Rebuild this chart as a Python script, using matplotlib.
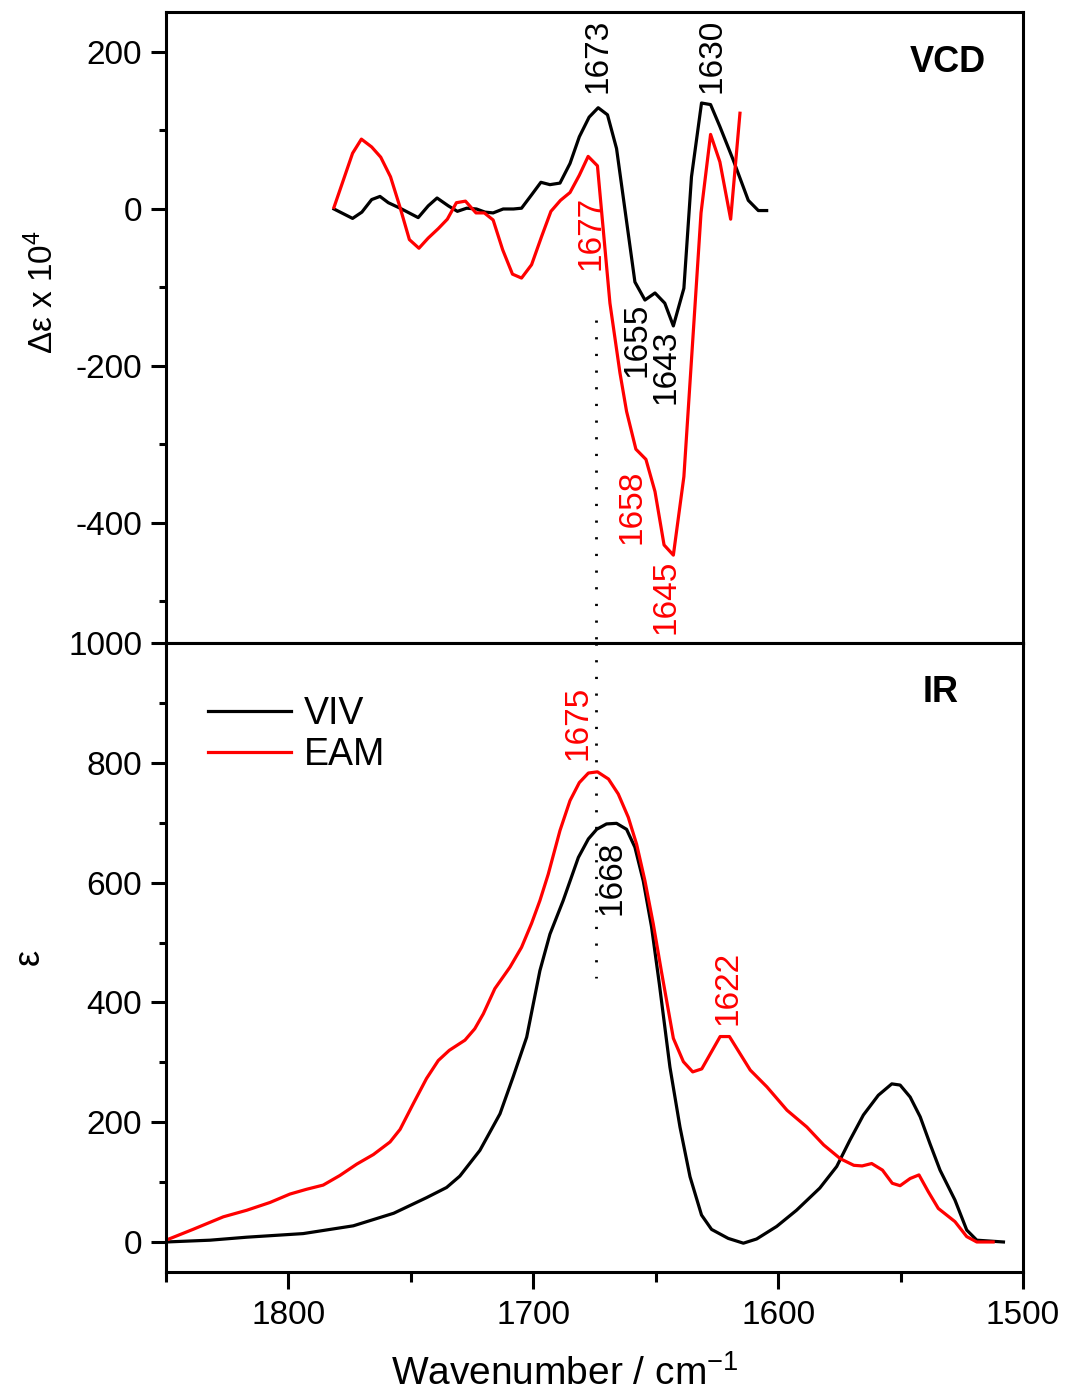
import matplotlib
matplotlib.use('Agg')
import matplotlib.pyplot as plt
from matplotlib.ticker import MultipleLocator

plt.rcParams['font.family'] = ['Liberation Sans', 'DejaVu Sans']
plt.rcParams['axes.unicode_minus'] = False
plt.rcParams['mathtext.default'] = 'regular'

# VCD, VIV (black)
vcd_viv_x = [1781.4, 1773.8, 1770.0, 1766.0, 1762.6, 1759.2, 1754.4, 1747.0, 1742.9, 1739.3,
             1734.7, 1731.0, 1727.2, 1723.2, 1719.7, 1716.4, 1712.3, 1708.1, 1704.8, 1700.7,
             1696.9, 1693.2, 1689.1, 1685.0, 1681.2, 1677.2, 1673.5, 1669.7, 1666.0, 1658.5,
             1654.4, 1650.3, 1646.3, 1642.8, 1638.5, 1635.4, 1631.3, 1627.6, 1623.8, 1618.3,
             1612.2, 1608.1, 1604.7]
vcd_viv_y = [0, -12, -4, 12, 16, 8, 1, -11, 4, 14,
             4, -3, 1, 0, -4, -5, 0, 0, 1, 18,
             34, 31, 33, 58, 92, 117, 129, 120, 77, -93,
             -116, -107, -120, -149, -101, 41, 135, 133, 105, 62,
             11, -2, -2]

# VCD, EAM (red)
vcd_eam_x = [1781.4, 1773.8, 1770.2, 1766.0, 1762.3, 1758.3, 1754.5, 1750.6, 1746.7, 1742.9,
             1738.8, 1735.1, 1731.4, 1727.7, 1723.4, 1720.0, 1716.4, 1712.5, 1708.5, 1704.8,
             1700.7, 1696.6, 1692.8, 1688.9, 1685.0, 1681.2, 1677.6, 1673.8, 1668.7, 1664.6,
             1661.9, 1658.1, 1654.0, 1650.3, 1646.6, 1642.8, 1638.5, 1631.5, 1627.6, 1623.8,
             1619.4, 1615.6]
vcd_eam_y = [2, 71, 89, 79, 66, 41, 3, -39, -50, -37,
             -25, -13, 8, 10, -5, -5, -14, -52, -83, -88,
             -71, -35, -3, 11, 21, 43, 67, 55, -120, -209,
             -258, -306, -319, -360, -428, -441, -341, -5, 95, 60,
             -13, 122]

# IR, VIV (black)
ir_viv_x = [1850, 1832, 1817, 1794, 1773.5, 1757, 1743.6, 1735.4, 1730, 1721.8,
            1713.6, 1708.2, 1702.7, 1697.3, 1693.2, 1687.8, 1681.6, 1677.5, 1674.1, 1670.1,
            1666, 1661.9, 1658.5, 1655.1, 1651.7, 1648.5, 1644.2, 1640.1, 1636, 1631.3,
            1627.2, 1620.4, 1614.2, 1608.8, 1600.6, 1592.5, 1583, 1576.1, 1570.7, 1565.2,
            1559.1, 1553.6, 1550.2, 1546.1, 1542, 1538, 1533.9, 1527.8, 1523, 1518.9, 1508]
ir_viv_y = [0, 3, 8, 14, 27, 48, 74, 91, 110, 153,
            214, 276, 342, 453, 514, 570, 642, 673, 689, 698,
            699, 689, 659, 603, 526, 430, 292, 192, 109, 45,
            21, 6, -2, 5, 26, 53, 90, 126, 170, 212,
            245, 264, 262, 242, 209, 164, 120, 70, 20, 3, 0]

# IR, EAM (red)
ir_eam_x = [1850, 1839, 1826.6, 1817, 1807.5, 1799.4, 1792.6, 1785.8, 1779, 1772.1,
            1765.3, 1758.5, 1754.4, 1749, 1743.6, 1738.8, 1734.3, 1727.9, 1723.9, 1720.4,
            1715.7, 1709.5, 1704.8, 1700.7, 1697.3, 1693.9, 1689.1, 1685, 1681.2, 1677.5,
            1673.8, 1669.3, 1665.3, 1661.2, 1657.8, 1654.4, 1651, 1647.6, 1642.8, 1638.7,
            1634.9, 1631.2, 1623.7, 1619.9, 1615.5, 1611.4, 1604.6, 1596.4, 1588.3, 1581.4,
            1574.6, 1569.1, 1565.7, 1561.8, 1557.4, 1553.4, 1550.2, 1546.1, 1542.5, 1538.7,
            1534.6, 1527.8, 1523, 1518.9, 1512.2]
ir_eam_y = [3, 21, 42, 53, 66, 80, 88, 95, 111, 130,
            146, 167, 188, 231, 273, 303, 320, 337, 356, 381,
            423, 459, 492, 532, 570, 614, 687, 737, 767, 783,
            785, 773, 748, 709, 664, 603, 531, 450, 340, 301,
            284, 289, 343, 343, 314, 287, 259, 220, 192, 162,
            139, 128, 127, 131, 120, 98, 94, 106, 112, 84,
            56, 34, 9, 0, 0]

RED = '#ff0000'
lw = 2.3

fig = plt.figure(figsize=(10.66, 13.91), dpi=100)
ax1 = fig.add_axes([0.1557, 0.5377, 0.8040, 0.4537])
ax2 = fig.add_axes([0.1557, 0.0856, 0.8040, 0.4521])

ax1.plot(vcd_viv_x, vcd_viv_y, color='black', lw=lw)
ax1.plot(vcd_eam_x, vcd_eam_y, color=RED, lw=lw)
ax2.plot(ir_viv_x, ir_viv_y, color='black', lw=lw, label='VIV')
ax2.plot(ir_eam_x, ir_eam_y, color=RED, lw=lw, label='EAM')

# dotted guide line at ~1674
ax1.plot([1674.5, 1674.5], [-141, -553], color='black', lw=2,
         linestyle=(0, (0.8, 5.2)), clip_on=False)
ax2.plot([1674.5, 1674.5], [1000, 440], color='black', lw=2,
         linestyle=(0, (0.8, 5.2)), clip_on=False)

for ax in (ax1, ax2):
    ax.set_xlim(1850, 1500)
    for s in ax.spines.values():
        s.set_linewidth(2.2)
    ax.xaxis.set_major_locator(MultipleLocator(100))
    ax.xaxis.set_minor_locator(MultipleLocator(50))
    ax.yaxis.set_minor_locator(MultipleLocator(100))
    ax.yaxis.set_major_locator(MultipleLocator(200))
    ax.tick_params(axis='y', which='major', direction='out', length=11, width=2.2,
                   labelsize=24, pad=6)
    ax.tick_params(axis='y', which='minor', direction='out', length=5, width=2.2)

ax1.set_ylim(-553, 251)
ax2.set_ylim(-50, 1000)

ax1.tick_params(axis='x', which='both', direction='out', length=3, width=2.2,
                labelbottom=False)
ax2.tick_params(axis='x', which='major', direction='out', length=12, width=2.2,
                labelsize=24, pad=8)
ax2.tick_params(axis='x', which='minor', direction='out', length=7, width=2.2)
ax2.set_yticks([0, 200, 400, 600, 800, 1000])

fig.text(0.040, 0.79, 'Δε x 10$^{4}$', rotation=90, fontsize=24,
         ha='center', va='center')
fig.text(0.027, 0.312, 'ε', rotation=90, fontsize=26, ha='center', va='center')
ax2.set_xlabel('Wavenumber / cm$^{-1}$', fontsize=28)
ax2.xaxis.set_label_coords(0.465, -0.132)

# annotations, VCD panel
ann = dict(rotation=90, fontsize=24, ha='center', va='center')
ax1.text(1673.5, 195, '1673', color='black', **ann)
ax1.text(1627.0, 195, '1630', color='black', **ann)
ax1.text(1676.4, -30, '1677', color=RED, **ann)
ax1.text(1657.7, -167, '1655', color='black', **ann)
ax1.text(1645.8, -201, '1643', color='black', **ann)
ax1.text(1659.7, -380, '1658', color=RED, **ann)
ax1.text(1645.8, -494, '1645', color=RED, **ann)
ax1.text(1530.6, 187, 'VCD', fontsize=26, fontweight='bold', ha='center', va='center')

# annotations, IR panel
ax2.text(1681.7, 867, '1675', color=RED, **ann)
ax2.text(1667.9, 608, '1668', color='black', **ann)
ax2.text(1620.5, 425, '1622', color=RED, **ann)
ax2.text(1533.5, 917, 'IR', fontsize=26, fontweight='bold', ha='center', va='center')

ax2.legend(loc='upper left', bbox_to_anchor=(0.01, 0.97), frameon=False, fontsize=27,
           handlelength=2.2, handletextpad=0.35, labelspacing=0.15)

fig.savefig('out.png', dpi=100)
